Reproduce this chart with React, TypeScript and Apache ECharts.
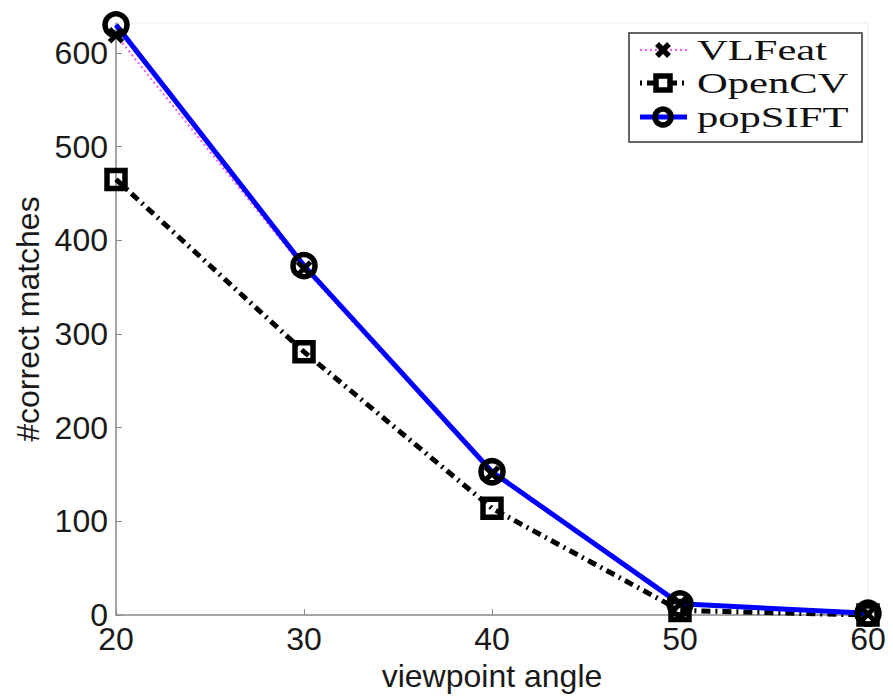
import React, { useEffect, useRef } from "react";
import * as echarts from "echarts";

const angles = [20, 30, 40, 50, 60];
const vlfeat = [619, 370, 151, 12, 1];
const opencv = [465, 281, 114, 5, 0];
const popsift = [630, 373, 153, 12, 2];
const seriesNames = ["VLFeat", "OpenCV", "popSIFT"];
const xTicks = [20, 30, 40, 50, 60];
const yTicks = [0, 100, 200, 300, 400, 500, 600];
const xTitle = "viewpoint angle";
const yTitle = "#correct matches";

const CROSS = "path://M0,0 L10,10 M10,0 L0,10";

export default function App() {
  const ref = useRef<HTMLDivElement>(null);
  useEffect(() => {
    if (!ref.current) return;
    const chart = echarts.init(ref.current, null, { renderer: "svg" });
    const sansFont = "Liberation Sans";
    const legendRows = [50, 83, 117];
    const lx0 = 640, lx1 = 687, lxm = 663;
    const legendTexts = seriesNames.map((n, i) => ({
      type: "text",
      x: 697,
      y: legendRows[i],
      scaleX: 1.42,
      style: {
        text: n,
        fontFamily: "Liberation Serif",
        fontSize: 30,
        fill: "#111",
        verticalAlign: "middle",
        align: "left",
      },
    }));
    chart.setOption({
      animation: false,
      backgroundColor: "#fff",
      grid: {
        left: 116,
        right: 25,
        top: 23,
        bottom: 80,
        show: true,
        borderColor: "#eeeeee",
        borderWidth: 1,
      },
      xAxis: {
        type: "value",
        min: 20,
        max: 60,
        interval: 10,
        name: xTitle,
        nameLocation: "middle",
        nameGap: 34,
        nameTextStyle: { fontFamily: sansFont, fontSize: 32, color: "#1a1a1a" },
        axisLine: { lineStyle: { color: "#8a8a8a", width: 1.5 } },
        axisTick: { inside: true, length: 6, lineStyle: { color: "#8a8a8a" }, customValues: xTicks },
        axisLabel: { fontFamily: sansFont, fontSize: 32, color: "#1a1a1a", margin: 8, customValues: xTicks },
        splitLine: { show: false },
      },
      yAxis: {
        type: "value",
        min: 0,
        max: 632,
        name: yTitle,
        nameLocation: "middle",
        nameRotate: 90,
        nameGap: 69,
        nameTextStyle: { fontFamily: sansFont, fontSize: 32, color: "#1a1a1a" },
        axisLine: { show: true, lineStyle: { color: "#8a8a8a", width: 1.5 } },
        axisTick: { show: true, inside: true, length: 6, lineStyle: { color: "#8a8a8a" }, customValues: yTicks },
        axisLabel: { fontFamily: sansFont, fontSize: 32, color: "#1a1a1a", margin: 8, customValues: yTicks },
        splitLine: { show: false },
      },
      series: [
        {
          name: seriesNames[0],
          type: "line",
          data: angles.map((a, i) => [a, vlfeat[i]]),
          symbol: CROSS,
          symbolSize: 13,
          showAllSymbol: true,
          itemStyle: { color: "none", borderColor: "#000", borderWidth: 5 },
          lineStyle: { color: "#ff55ff", width: 2, type: [2, 3] },
        },
        {
          name: seriesNames[1],
          type: "line",
          data: angles.map((a, i) => [a, opencv[i]]),
          symbol: "rect",
          symbolSize: 18,
          itemStyle: { color: "transparent", borderColor: "#000", borderWidth: 5.5 },
          lineStyle: { color: "#000", width: 5, type: [9, 5, 2, 5] },
        },
        {
          name: seriesNames[2],
          type: "line",
          data: angles.map((a, i) => [a, popsift[i]]),
          symbol: "circle",
          symbolSize: 22,
          itemStyle: { color: "transparent", borderColor: "#000", borderWidth: 5.5 },
          lineStyle: { color: "#0000ff", width: 5 },
        },
      ],
      graphic: [
        {
          type: "group",
          z: 100,
          children: [
            {
              type: "rect",
              shape: { x: 629, y: 33, width: 233, height: 109 },
              style: { fill: "#fff", stroke: "#333", lineWidth: 1.5 },
            },
            {
              type: "line",
              shape: { x1: lx0, y1: legendRows[0], x2: lx1, y2: legendRows[0] },
              style: { stroke: "#ff55ff", lineWidth: 2, lineDash: [2, 3] },
            },
            {
              type: "line",
              shape: { x1: lxm - 6, y1: legendRows[0] - 6, x2: lxm + 6, y2: legendRows[0] + 6 },
              style: { stroke: "#000", lineWidth: 5.5 },
            },
            {
              type: "line",
              shape: { x1: lxm + 6, y1: legendRows[0] - 6, x2: lxm - 6, y2: legendRows[0] + 6 },
              style: { stroke: "#000", lineWidth: 5.5 },
            },
            {
              type: "line",
              shape: { x1: lx0, y1: legendRows[1], x2: lx1, y2: legendRows[1] },
              style: { stroke: "#000", lineWidth: 5, lineDash: [2, 5, 9, 5] },
            },
            {
              type: "rect",
              shape: { x: lxm - 7, y: legendRows[1] - 7, width: 14, height: 14 },
              style: { fill: "#fff", stroke: "#000", lineWidth: 5.5 },
            },
            {
              type: "line",
              shape: { x1: lx0, y1: legendRows[2], x2: lx1, y2: legendRows[2] },
              style: { stroke: "#0000ff", lineWidth: 5 },
            },
            {
              type: "circle",
              shape: { cx: lxm, cy: legendRows[2], r: 8 },
              style: { fill: "transparent", stroke: "#000", lineWidth: 5.5 },
            },
            ...legendTexts,
          ],
        },
      ],
    });
    return () => chart.dispose();
  }, []);
  return (
    <div
      ref={ref}
      style={{ position: "fixed", left: 0, top: 0, width: 893, height: 697 }}
    />
  );
}
